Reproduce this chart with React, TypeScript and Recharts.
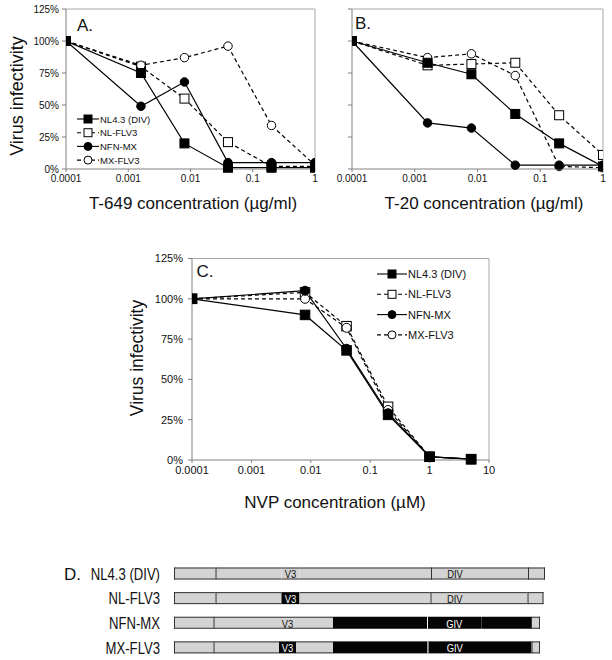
import { LineChart, Line, XAxis, YAxis, ReferenceLine, Legend, BarChart, Bar } from "recharts";

// concentrations (first point stands for "no drug")
const concPeptide = [0.0001, 0.0016, 0.008, 0.04, 0.2, 1];
const concNvp = [0.0001, 0.008, 0.04, 0.2, 1, 5];
const ticksPeptide = [0.0001, 0.001, 0.01, 0.1, 1];
const ticksNvp = [0.0001, 0.001, 0.01, 0.1, 1, 10];
const ticksPct = [0, 25, 50, 75, 100, 125];

// A. T-649
const t649Nl43 = [100, 75, 20, 1, 1, 1];
const t649NlFlv3 = [100, 80, 55, 21, 2, 2];
const t649NfnMx = [100, 49, 68, 5, 5, 5];
const t649MxFlv3 = [100, 81, 87, 96, 34, 3];

// B. T-20
const t20Nl43 = [100, 83, 74, 43, 20, 2];
const t20NlFlv3 = [100, 81, 82, 83, 42, 11];
const t20NfnMx = [100, 36, 32, 3, 3, 3];
const t20MxFlv3 = [100, 87, 90, 73, 2, 1];

// C. NVP
const nvpNl43 = [100, 90, 68, 28, 2, 0.5];
const nvpNlFlv3 = [100, 104, 83, 33, 2, 0.5];
const nvpNfnMx = [100, 105, 69, 29, 2, 0.5];
const nvpMxFlv3 = [100, 100, 82, 31, 2, 0.5];

// D. env constructs, segment lengths along the gene, origin of each piece
const constructs = ["NL4.3 (DIV)", "NL-FLV3", "NFN-MX", "MX-FLV3"];
type Seg = { len: number; origin: "NL" | "MX"; boundary: boolean; region?: string };
const nl43Env: Seg[] = [
  { len: 41.5, origin: "NL", boundary: true },
  { len: 66, origin: "NL", boundary: true },
  { len: 18, origin: "NL", boundary: false, region: "V3" },
  { len: 131.5, origin: "NL", boundary: false },
  { len: 48, origin: "NL", boundary: true, region: "DIV" },
  { len: 49, origin: "NL", boundary: false },
  { len: 17, origin: "NL", boundary: true },
];
const nlFlv3Env: Seg[] = [
  { len: 41.5, origin: "NL", boundary: true },
  { len: 66, origin: "NL", boundary: true },
  { len: 18, origin: "MX", boundary: false, region: "V3" },
  { len: 131, origin: "NL", boundary: false },
  { len: 48.5, origin: "NL", boundary: true, region: "DIV" },
  { len: 48.5, origin: "NL", boundary: false },
  { len: 16, origin: "NL", boundary: true },
];
const nfnMxEnv: Seg[] = [
  { len: 39.5, origin: "NL", boundary: true },
  { len: 65.5, origin: "NL", boundary: true },
  { len: 17, origin: "NL", boundary: false, region: "V3" },
  { len: 37, origin: "NL", boundary: false },
  { len: 94, origin: "MX", boundary: false },
  { len: 54.5, origin: "MX", boundary: true, region: "GIV" },
  { len: 49.5, origin: "MX", boundary: false },
  { len: 9, origin: "NL", boundary: true },
];
const mxFlv3Env: Seg[] = [
  { len: 39.5, origin: "NL", boundary: true },
  { len: 65.5, origin: "NL", boundary: true },
  { len: 17, origin: "MX", boundary: false, region: "V3" },
  { len: 37, origin: "NL", boundary: false },
  { len: 94.5, origin: "MX", boundary: false },
  { len: 54.5, origin: "MX", boundary: true, region: "GIV" },
  { len: 49.5, origin: "MX", boundary: false },
  { len: 8.5, origin: "NL", boundary: true },
];
const envs = [nl43Env, nlFlv3Env, nfnMxEnv, mxFlv3Env];

const FONT = "'Liberation Sans', Arial, Helvetica, sans-serif";
const AXIS = "#808080";
const FRAME = "#a8a8a8";
const NARROW = 0.82; // horizontal squeeze for the condensed labels of panel D

const SERIES = [
  { key: "nl43", name: "NL4.3 (DIV)", shape: "square", filled: true, dashed: false },
  { key: "nlflv3", name: "NL-FLV3", shape: "square", filled: false, dashed: true },
  { key: "nfnmx", name: "NFN-MX", shape: "circle", filled: true, dashed: false },
  { key: "mxflv3", name: "MX-FLV3", shape: "circle", filled: false, dashed: true },
];
// filled markers end up on top
const drawOrder = [1, 3, 2, 0];

const concLabel = (v: number) => (v >= 1 ? String(v) : v.toFixed(Math.round(-Math.log10(v))));

function Marker({ cx, cy, shape, filled, size }: any) {
  if (cx == null || cy == null) return null;
  const fill = filled ? "#000" : "#fff";
  if (shape === "square") {
    return <rect x={cx - size / 2} y={cy - size / 2} width={size} height={size} fill={fill} stroke="#000" strokeWidth={1} />;
  }
  return <circle cx={cx} cy={cy} r={size / 2} fill={fill} stroke="#000" strokeWidth={1} />;
}

function LegendBox({ y0, spacing, lineLen, fontSize, size }: any) {
  return (
    <svg width={140} height={y0 + spacing * 4}>
      {SERIES.map((s, i) => {
        const y = y0 + i * spacing;
        return (
          <g key={s.key}>
            <line x1={2} x2={2 + lineLen} y1={y} y2={y} stroke="#000" strokeWidth={1.1} strokeDasharray={s.dashed ? "4 3" : undefined} />
            <Marker cx={2 + lineLen / 2} cy={y} shape={s.shape} filled={s.filled} size={size} />
            <text x={3 + lineLen} y={y} dominantBaseline="central" fontSize={fontSize} fontFamily={FONT} fill="#111">
              {s.name}
            </text>
          </g>
        );
      })}
    </svg>
  );
}

function DoseChart({ width, height, margin, yAxisWidth, conc, values, xTicks, showYLabels, tickFont, ySpace, sq, ci, legend }: any) {
  const rows = conc.map((c: number, i: number) => {
    const r: any = { conc: c };
    SERIES.forEach((s) => (r[s.key] = values[s.key][i]));
    return r;
  });
  const xDomain = [xTicks[0], xTicks[xTicks.length - 1]];
  return (
    <LineChart width={width} height={height} data={rows} margin={margin}>
      <XAxis
        dataKey="conc"
        type="number"
        scale="log"
        domain={xDomain}
        ticks={xTicks}
        interval={0}
        allowDataOverflow
        tickFormatter={concLabel}
        tick={{ fontSize: tickFont, fill: "#111", fontFamily: FONT }}
        tickSize={3}
        tickMargin={3}
        stroke={AXIS}
        height={20}
      />
      <YAxis
        type="number"
        domain={[0, 125]}
        ticks={ticksPct}
        interval={0}
        tickFormatter={(v: number) => (showYLabels ? `${v}%` : "")}
        tick={{ fontSize: tickFont, fill: "#111", fontFamily: FONT }}
        tickSize={4}
        tickMargin={ySpace}
        stroke={AXIS}
        width={yAxisWidth}
      />
      <ReferenceLine y={125} stroke={FRAME} />
      <ReferenceLine x={xDomain[1]} stroke={FRAME} />
      {drawOrder.map((idx) => {
        const s = SERIES[idx];
        const size = s.shape === "square" ? sq : ci;
        return (
          <Line
            key={s.key}
            type="linear"
            dataKey={s.key}
            name={s.name}
            stroke="#000"
            strokeWidth={1.2}
            strokeDasharray={s.dashed ? "4 3" : undefined}
            dot={(p: any) => <Marker key={`${s.key}-${p.index}`} cx={p.cx} cy={p.cy} shape={s.shape} filled={s.filled} size={size} />}
            activeDot={false}
            connectNulls
            isAnimationActive={false}
          />
        );
      })}
      {legend && (
        <Legend
          layout="vertical"
          align="center"
          verticalAlign="middle"
          wrapperStyle={{ left: legend.left, top: legend.top, width: 140 }}
          content={() => <LegendBox {...legend} />}
        />
      )}
    </LineChart>
  );
}

function NarrowText({ x, y, anchor, size, fill, children }: any) {
  return (
    <g transform={`translate(${x},${y}) scale(${NARROW},1)`}>
      <text x={0} y={0} textAnchor={anchor} dominantBaseline="central" fontSize={size} fontFamily={FONT} fill={fill}>
        {children}
      </text>
    </g>
  );
}

function EnvSegment(props: any) {
  const { x, y, width, height, payload, segIndex } = props;
  const env = envs[constructs.indexOf(payload?.name)];
  const seg = env ? env[segIndex] : undefined;
  if (!seg || !(width > 0)) return <g />;
  const nl = seg.origin === "NL";
  const fill = nl ? "#d3d3d3" : "#050505";
  const last = segIndex === env.length - 1;
  return (
    <g>
      <rect x={x} y={y} width={width} height={height} fill={fill} />
      {nl && <line x1={x} x2={x + width} y1={y + 0.5} y2={y + 0.5} stroke="#333" />}
      {nl && <line x1={x} x2={x + width} y1={y + height - 0.5} y2={y + height - 0.5} stroke="#333" />}
      {seg.boundary && <line x1={x + 0.5} x2={x + 0.5} y1={y} y2={y + height} stroke={nl ? "#333" : "#fff"} />}
      {last && <line x1={x + width - 0.5} x2={x + width - 0.5} y1={y} y2={y + height} stroke="#333" />}
      {seg.region && (
        <NarrowText x={x + width / 2} y={y + height / 2 + 0.5} anchor="middle" size={11.5} fill={nl ? "#111" : "#fff"}>
          {seg.region}
        </NarrowText>
      )}
    </g>
  );
}

function EnvMap() {
  const nSeg = Math.max(...envs.map((e) => e.length));
  const rows = constructs.map((name, r) => {
    const o: any = { name };
    for (let i = 0; i < nSeg; i++) o[`s${i}`] = envs[r][i] ? envs[r][i].len : 0;
    return o;
  });
  const total = Math.max(...envs.map((e) => e.reduce((a, s) => a + s.len, 0)));
  return (
    <BarChart width={612} height={108} data={rows} layout="vertical" margin={{ top: 9.5, right: 612 - 174 - total, bottom: 0, left: 0 }}>
      <XAxis type="number" domain={[0, total]} hide />
      <YAxis
        type="category"
        dataKey="name"
        width={174}
        axisLine={false}
        tickLine={false}
        tickSize={0}
        tickMargin={14}
        tick={(p: any) => (
          <NarrowText key={p.index} x={p.x} y={p.y + 0.5} anchor="end" size={16} fill="#111">
            {p.payload.value}
          </NarrowText>
        )}
      />
      {Array.from({ length: nSeg }, (_, i) => (
        <Bar
          key={i}
          dataKey={`s${i}`}
          stackId="env"
          barSize={12}
          isAnimationActive={false}
          shape={(p: any) => <EnvSegment {...p} segIndex={i} />}
        />
      ))}
    </BarChart>
  );
}

export default function App() {
  const abMargin = { top: 9, bottom: 1, left: 0 };
  return (
    <div style={{ position: "absolute", left: 0, top: 0, width: 612, height: 660, overflow: "hidden", background: "#fff" }}>
      <div style={{ position: "absolute", left: 0, top: 0 }}>
        <DoseChart
          width={320}
          height={190}
          margin={{ ...abMargin, right: 5 }}
          yAxisWidth={66}
          conc={concPeptide}
          values={{ nl43: t649Nl43, nlflv3: t649NlFlv3, nfnmx: t649NfnMx, mxflv3: t649MxFlv3 }}
          xTicks={ticksPeptide}
          showYLabels
          tickFont={10}
          ySpace={3}
          sq={9}
          ci={8.5}
          legend={{ left: 75, top: 112, y0: 7, spacing: 13.7, lineLen: 22, fontSize: 9.5, size: 8 }}
        />
      </div>
      <div style={{ position: "absolute", left: 300, top: 0 }}>
        <DoseChart
          width={312}
          height={190}
          margin={{ ...abMargin, right: 9 }}
          yAxisWidth={52}
          conc={concPeptide}
          values={{ nl43: t20Nl43, nlflv3: t20NlFlv3, nfnmx: t20NfnMx, mxflv3: t20MxFlv3 }}
          xTicks={ticksPeptide}
          showYLabels={false}
          tickFont={10}
          ySpace={3}
          sq={9}
          ci={8.5}
        />
      </div>
      <div style={{ position: "absolute", left: 100, top: 240 }}>
        <DoseChart
          width={400}
          height={250}
          margin={{ top: 18.5, right: 11, bottom: 10, left: 0 }}
          yAxisWidth={92}
          conc={concNvp}
          values={{ nl43: nvpNl43, nlflv3: nvpNlFlv3, nfnmx: nvpNfnMx, mxflv3: nvpMxFlv3 }}
          xTicks={ticksNvp}
          showYLabels
          tickFont={11}
          ySpace={5}
          sq={9.5}
          ci={9}
          legend={{ left: 275, top: 24, y0: 10, spacing: 20.3, lineLen: 30, fontSize: 11, size: 8 }}
        />
      </div>
      <div style={{ position: "absolute", left: 0, top: 552 }}>
        <EnvMap />
      </div>
      <svg width={612} height={660} style={{ position: "absolute", left: 0, top: 0, pointerEvents: "none" }}>
        <g fontFamily={FONT} fill="#111">
          <text x={77} y={30.5} fontSize={17}>A.</text>
          <text x={355} y={29} fontSize={17}>B.</text>
          <text x={196.5} y={277} fontSize={17}>C.</text>
          <text x={22.5} y={96} fontSize={18} textAnchor="middle" transform="rotate(-90 22.5 96)">Virus infectivity</text>
          <text x={143} y={358} fontSize={17.5} textAnchor="middle" transform="rotate(-90 143 358)">Virus infectivity</text>
          <text x={193} y={209} fontSize={17} textAnchor="middle">T-649 concentration (µg/ml)</text>
          <text x={484} y={209} fontSize={17} textAnchor="middle">T-20 concentration (µg/ml)</text>
          <text x={335} y={508} fontSize={17} textAnchor="middle">NVP concentration (µM)</text>
          <text x={64} y={580} fontSize={17}>D.</text>
        </g>
      </svg>
    </div>
  );
}
